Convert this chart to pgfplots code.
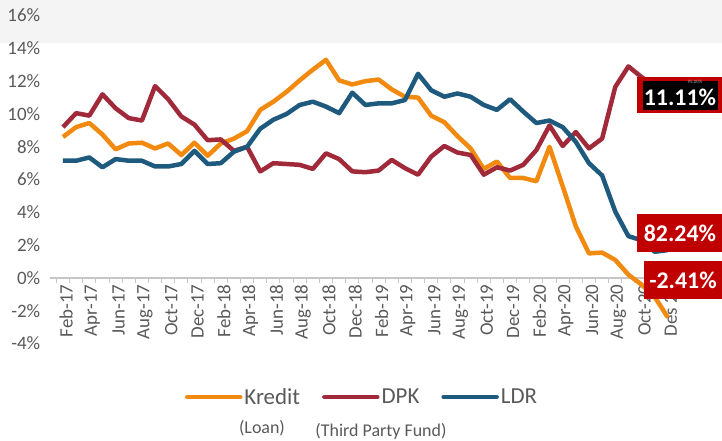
\documentclass[border=0pt]{standalone}
\usepackage{pgfplots}
\usepackage{pgfplotstable}
\pgfplotsset{compat=1.18}
\usepackage{fontspec}
\setmainfont{Carlito}
\definecolor{kred}{HTML}{F28A0F}
\definecolor{dpk}{HTML}{A12A3A}
\definecolor{ldr}{HTML}{1E5A7E}
\definecolor{lbl}{HTML}{C00000}
\definecolor{txt}{HTML}{595959}

\pgfplotstableread{
i k d l
0 8.6 9.2 7.15
1 9.2 10.05 7.15
2 9.45 9.9 7.35
3 8.75 11.2 6.75
4 7.85 10.35 7.25
5 8.2 9.75 7.15
6 8.25 9.6 7.15
7 7.9 11.7 6.8
8 8.2 10.9 6.8
9 7.5 9.85 6.95
10 8.25 9.35 7.75
11 7.45 8.4 6.95
12 8.2 8.45 7.0
13 8.5 7.75 7.7
14 8.95 8.0 8.0
15 10.25 6.5 9.1
16 10.75 7.0 9.65
17 11.35 6.95 10.0
18 12.05 6.9 10.55
19 12.7 6.65 10.75
20 13.3 7.6 10.45
21 12.05 7.25 10.05
22 11.8 6.5 11.3
23 12.0 6.45 10.55
24 12.1 6.55 10.65
25 11.5 7.2 10.65
26 11.05 6.7 10.85
27 11.0 6.3 12.45
28 9.9 7.4 11.45
29 9.5 8.05 11.05
30 8.65 7.65 11.25
31 7.9 7.5 11.05
32 6.65 6.3 10.55
33 7.1 6.75 10.25
34 6.1 6.55 10.9
35 6.1 6.9 10.15
36 5.9 7.8 9.45
37 8.0 9.3 9.6
38 5.6 8.05 9.2
39 3.15 8.9 8.3
40 1.5 7.9 7.0
41 1.55 8.5 6.25
42 1.1 11.65 4.05
43 0.2 12.9 2.55
44 -0.4 12.25 2.3
45 -1.15 11.7 1.6
46 -2.41 11.11 1.7
}\data

\begin{document}
\begin{tikzpicture}[x=1bp,y=1bp]
\path[use as bounding box] (0,0) rectangle (722,441);
\fill[gray!9] (0,398) rectangle (722,441);
\begin{axis}[
  at={(49.85bp,97.4bp)}, anchor=south west,
  scale only axis, width=670.6bp, height=328bp,
  xmin=-1, xmax=50, ymin=-4, ymax=16,
  axis x line=middle, axis y line=left,
  axis line style={-},
  x axis line style={draw=gray!45, line width=1.2bp},
  y axis line style={draw=none},
  xtick={0,2,...,46},
  xticklabels={Feb-17,Apr-17,Jun-17,Aug-17,Oct-17,Dec-17,Feb-18,Apr-18,Jun-18,Aug-18,Oct-18,Dec-18,Feb-19,Apr-19,Jun-19,Aug-19,Oct-19,Dec-19,Feb-20,Apr-20,Jun-20,Aug-20,Oct-20,Des 20},
  minor xtick={-0.5,0.5,...,49.5},
  major x tick style={draw=none},
  minor x tick style={draw=gray!45, line width=1bp},
  minor tick length=5bp,
  xtick align=outside,
  xticklabel style={rotate=90, anchor=east, font=\fontsize{19}{19}\selectfont, text=txt, inner sep=2bp, yshift=-3bp},
  ytick={-4,-2,...,16},
  yticklabels={-4\%,-2\%,0\%,2\%,4\%,6\%,8\%,10\%,12\%,14\%,16\%},
  ytick style={draw=none},
  yticklabel style={font=\fontsize{19}{19}\selectfont, text=txt, anchor=east, xshift=-4bp},
  legend style={at={(0.4655,-0.163)}, anchor=center, draw=none, fill=none,
    legend columns=3, font=\fontsize{23}{23}\selectfont, text=txt,
    /tikz/every even column/.append style={column sep=20bp},
    inner sep=0pt},
  legend image code/.code={\draw[#1, line cap=round] (0bp,0bp) -- (53bp,0bp);},
  clip=false,
]
\addplot[kred, line width=4.5bp, line join=round] table[x=i,y=k] {\data};
\addlegendentry{Kredit}
\addplot[dpk, line width=4.5bp, line join=round] table[x=i,y=d] {\data};
\addlegendentry{DPK}
\addplot[ldr, line width=4.5bp, line join=round] table[x=i,y=l] {\data};
\addlegendentry{LDR}
\end{axis}
% annotation boxes
\fill[lbl] (637,328) rectangle (722,364);
\fill[black] (642.5,330.5) rectangle (717.5,359.5);
\node[text=white, font=\bfseries\fontsize{24}{24}\selectfont] at (680,344) {11.11\%};
\node[text=gray!70, font=\fontsize{5}{5}\selectfont, inner sep=0pt] at (695,359) {95.00\%};
\fill[lbl] (637,189) rectangle (722,227);
\node[text=white, font=\bfseries\fontsize{24}{24}\selectfont] at (680,208) {82.24\%};
\fill[lbl] (644,142) rectangle (722,180);
\node[text=white, font=\bfseries\fontsize{24}{24}\selectfont] at (683,161) {-2.41\%};
% sub labels
\node[text=txt, font=\fontsize{18}{18}\selectfont] at (262,13) {(Loan)};
\node[text=txt, font=\fontsize{18}{18}\selectfont] at (381,10) {(Third Party Fund)};
\end{tikzpicture}
\end{document}
